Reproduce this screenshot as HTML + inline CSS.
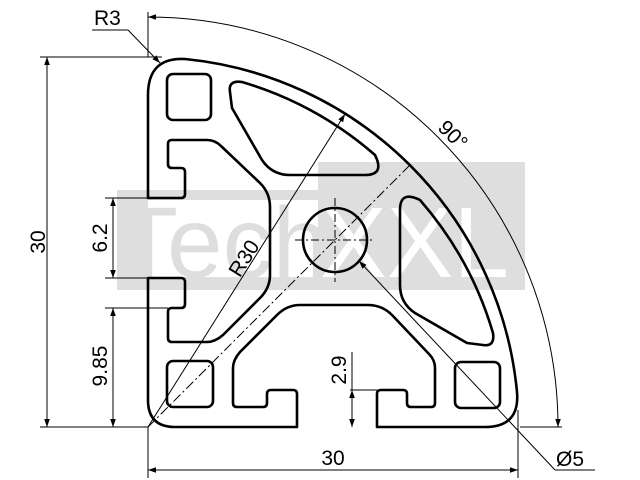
<!DOCTYPE html>
<html><head><meta charset="utf-8"><style>html,body{margin:0;padding:0;background:#fff}svg{display:block}</style></head>
<body>
<svg width="640" height="480" viewBox="0 0 640 480" xmlns="http://www.w3.org/2000/svg" font-family="Liberation Sans, Arial, sans-serif">
<defs>
<marker id="a" viewBox="0 0 10 10" refX="10" refY="5" markerWidth="14" markerHeight="8" markerUnits="userSpaceOnUse" orient="auto-start-reverse"><path d="M0,1.5 L10,5 L0,8.5 Z" fill="#000"/></marker>
</defs>
<rect x="117" y="190" width="201" height="100" fill="#dedede"/>
<rect x="148" y="200" width="170" height="77" fill="#fff"/>
<rect x="318" y="162" width="207" height="128" fill="#dedede"/>
<text x="117" y="277" font-size="100" fill="#dedede">Tech</text>
<text x="320" y="277" font-size="100" fill="#fff">XXL</text>

<g fill="none" stroke="#000" stroke-width="2.6" stroke-linejoin="round">
<path d="M148,95 Q148,57 185,59 A370,370 0 0 1 517,392 Q520,427 485,427 L377,427 L377,394 Q377,390 381,390 L403,390 Q407,390 407,394 L407,403 Q407,407 411,407 L431,407 Q435,407 435,403 L435,368 Q435,360 429,354 L392,315 Q382,305 368,305 L300,305 Q287,305 277,315 L240,352 Q233,360 233,368 L233,403 Q233,407 237,407 L263,407 Q267,407 267,403 L267,394 Q267,390 271,390 L293,390 Q297,390 297,394 L297,427 L175,427 Q148,427 148,400 L148,278 L181,278 Q185,278 185,282 L185,304 Q185,308 181,308 L172,308 Q168,308 168,312 L168,338 Q168,342 172,342 L207,342 Q215,342 223,335 L260,298 Q270,288 270,275 L270,207 Q270,193 260,183 L221,146 Q215,140 207,140 L172,140 Q168,140 168,144 L168,164 Q168,168 172,168 L181,168 Q185,168 185,172 L185,194 Q185,198 181,198 L148,198 Z"/>
<rect x="167" y="74" width="44" height="46" rx="6"/>
<rect x="167" y="361" width="46" height="46" rx="6"/>
<rect x="455" y="362" width="45" height="46" rx="6"/>
<path d="M230,92 Q228,80 242,82 A356,356 0 0 1 375,155 Q385,175 365,175 L290,175 Q272,175 262,160 L232,108 Z"/>
<path d="M230,92 Q228,80 242,82 A356,356 0 0 1 375,155 Q385,175 365,175 L290,175 Q272,175 262,160 L232,108 Z" transform="matrix(0,-1,-1,0,575,575)"/>
<circle cx="335" cy="240" r="32"/>
</g>

<g stroke="#000" stroke-width="1" fill="none">
<line x1="148" y1="427" x2="410" y2="165" stroke-dasharray="10,3,2,3"/>
<line x1="295" y1="240" x2="375" y2="240" stroke-dasharray="8,3,2,3"/>
<line x1="335" y1="198" x2="335" y2="282" stroke-dasharray="8,3,2,3"/>
<line x1="40" y1="57" x2="162" y2="57"/>
<line x1="40" y1="427" x2="148" y2="427"/>
<line x1="47" y1="57" x2="47" y2="427" marker-start="url(#a)" marker-end="url(#a)"/>
<line x1="105" y1="198" x2="148" y2="198"/>
<line x1="105" y1="278" x2="148" y2="278"/>
<line x1="113" y1="198" x2="113" y2="278" marker-start="url(#a)" marker-end="url(#a)"/>
<line x1="105" y1="308" x2="168" y2="308"/>
<line x1="113" y1="308" x2="113" y2="427" marker-start="url(#a)" marker-end="url(#a)"/>
<line x1="350" y1="390" x2="377" y2="390"/>
<line x1="352" y1="352" x2="352" y2="390"/>
<line x1="352" y1="390" x2="352" y2="427" marker-start="url(#a)" marker-end="url(#a)"/>
<line x1="148" y1="427" x2="148" y2="478"/>
<line x1="518" y1="410" x2="518" y2="478"/>
<line x1="148" y1="470" x2="518" y2="470" marker-start="url(#a)" marker-end="url(#a)"/>
<line x1="148" y1="12" x2="148" y2="57"/>
<line x1="520" y1="427" x2="562" y2="427"/>
<path d="M148,17 A410,410 0 0 1 558,427" marker-start="url(#a)" marker-end="url(#a)"/>
<line x1="92" y1="30" x2="128" y2="30"/>
<line x1="128" y1="30" x2="160" y2="63" marker-end="url(#a)"/>
<line x1="148" y1="427" x2="345" y2="114" marker-end="url(#a)"/>
<line x1="555" y1="470" x2="359" y2="261" marker-end="url(#a)"/>
<line x1="555" y1="470" x2="595" y2="470"/>
</g>

<g font-size="21" fill="#000">
<text x="94" y="25">R3</text>
<text transform="translate(45,242) rotate(-90)" text-anchor="middle">30</text>
<text transform="translate(107,238) rotate(-90)" text-anchor="middle">6.2</text>
<text transform="translate(107,366) rotate(-90)" text-anchor="middle">9.85</text>
<text transform="translate(346,370) rotate(-90)" text-anchor="middle">2.9</text>
<text x="333" y="465" text-anchor="middle">30</text>
<text x="556" y="466">Ø5</text>
<text transform="translate(448,140) rotate(45)" text-anchor="middle">90°</text>
<text transform="translate(250,262) rotate(-58)" text-anchor="middle">R30</text>
</g>
</svg>
</body></html>
